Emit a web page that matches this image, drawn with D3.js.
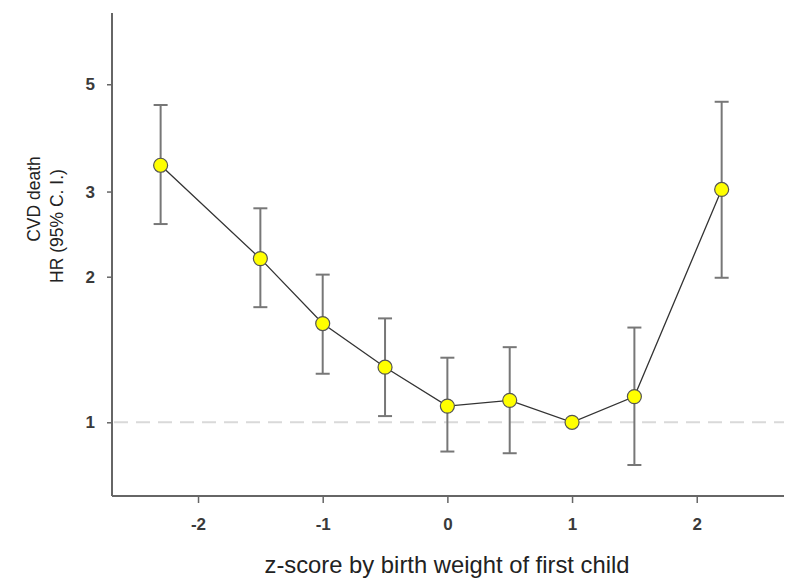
<!DOCTYPE html>
<html><head><meta charset="utf-8">
<script src="https://cdn.jsdelivr.net/npm/d3@7"></script>
<style>body{margin:0;background:#fff}svg{display:block}</style>
</head><body>
<script>
const zScores = [-2.3, -1.5, -1, -0.5, 0, 0.5, 1, 1.5, 2.2];
const hr      = [3.40, 2.18, 1.60, 1.30, 1.08, 1.11, 1.00, 1.13, 3.03];
const ciLow   = [2.57, 1.73, 1.26, 1.03, 0.87, 0.863, null, 0.816, 1.99];
const ciHigh  = [4.53, 2.77, 2.02, 1.64, 1.36, 1.43, null, 1.57, 4.60];
const xTicks = [-2, -1, 0, 1, 2];
const yTicks = [1, 2, 3, 5];
const xTitle = "z-score by birth weight of first child";
const yTitle = ["CVD death", "HR (95% C. I.)"];

const W = 800, H = 588;
const svg = d3.select("body").append("svg").attr("width", W).attr("height", H);
const x = d3.scaleLinear().domain([-2.69, 2.70]).range([112, 784]);
const y = d3.scaleLog().domain([0.704, 7.02]).range([496, 13]);
const font = "'Liberation Sans', Arial, sans-serif";

// reference line at HR = 1
svg.append("line").attr("x1", x.range()[0] + 2).attr("x2", x.range()[1])
  .attr("y1", y(1)).attr("y2", y(1))
  .attr("stroke", "#d9d9d9").attr("stroke-width", 2).attr("stroke-dasharray", "14,8");

// axes
const fmt = d => String(d);
const xAxis = d3.axisBottom(x).tickValues(xTicks).tickSize(7).tickPadding(15).tickFormat(fmt);
const yAxis = d3.axisLeft(y).tickValues(yTicks).tickSize(5).tickPadding(12).tickFormat(fmt);
const gx = svg.append("g").attr("transform", `translate(0,496)`).call(xAxis);
const gy = svg.append("g").attr("transform", `translate(112,0)`).call(yAxis);
[gx, gy].forEach(g => {
  g.select(".domain").attr("stroke", "#666").attr("stroke-width", 2);
  g.selectAll(".tick line").attr("stroke", "#666").attr("stroke-width", 1.5);
  g.selectAll(".tick text").attr("fill", "#3a3a3a").style("font-family", font)
    .style("font-size", "17px").style("font-weight", "bold");
});
gx.select(".domain").attr("d", `M${x.range()[0]},0H${x.range()[1]}`);
gy.select(".domain").attr("d", `M0,${y.range()[1]}V${y.range()[0]}`);

// error bars
const data = zScores.map((z, i) => ({z, hr: hr[i], lo: ciLow[i], hi: ciHigh[i]}));
const eb = svg.append("g").attr("stroke", "#777").attr("stroke-width", 2);
data.filter(d => d.lo != null).forEach(d => {
  eb.append("line").attr("x1", x(d.z)).attr("x2", x(d.z)).attr("y1", y(d.lo)).attr("y2", y(d.hi));
  eb.append("line").attr("x1", x(d.z) - 7).attr("x2", x(d.z) + 7).attr("y1", y(d.lo)).attr("y2", y(d.lo));
  eb.append("line").attr("x1", x(d.z) - 7).attr("x2", x(d.z) + 7).attr("y1", y(d.hi)).attr("y2", y(d.hi));
});

// connecting line
svg.append("path").datum(data)
  .attr("d", d3.line().x(d => x(d.z)).y(d => y(d.hr)))
  .attr("fill", "none").attr("stroke", "#333").attr("stroke-width", 1.3);

// markers
svg.append("g").selectAll("circle").data(data).join("circle")
  .attr("cx", d => x(d.z)).attr("cy", d => y(d.hr)).attr("r", 7)
  .attr("fill", "#ffff00").attr("stroke", "#555").attr("stroke-width", 1.2);

// titles
svg.append("text").attr("x", 447).attr("y", 573).attr("text-anchor", "middle")
  .style("font-family", font).style("font-size", "23.8px").attr("fill", "#222").text(xTitle);
const yt = svg.append("g").attr("transform", "rotate(-90)");
yt.append("text").attr("x", -199).attr("y", 40).attr("text-anchor", "middle")
  .style("font-family", font).style("font-size", "17.5px").attr("fill", "#222").text(yTitle[0]);
yt.append("text").attr("x", -226).attr("y", 63).attr("text-anchor", "middle")
  .style("font-family", font).style("font-size", "17.5px").attr("fill", "#222").text(yTitle[1]);
</script>
</body></html>
